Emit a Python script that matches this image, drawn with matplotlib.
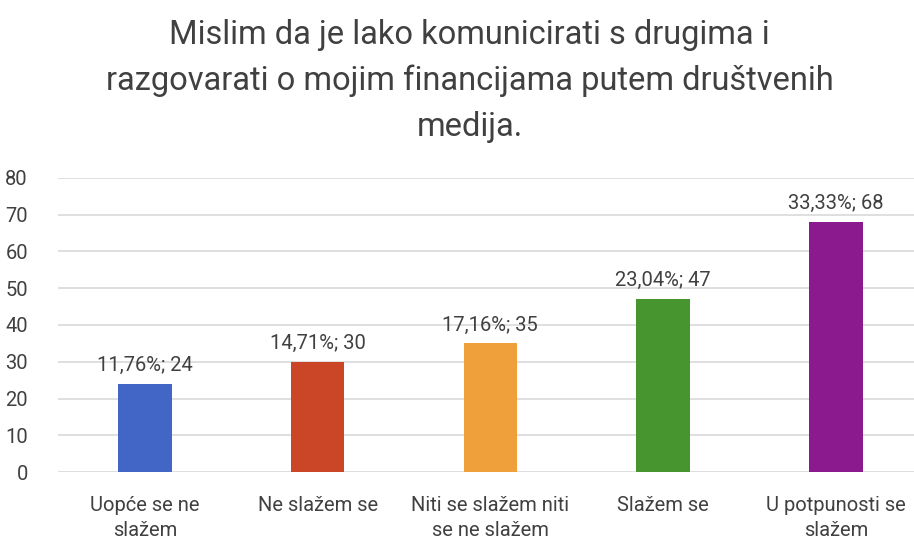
import matplotlib.pyplot as plt

plt.rcParams['font.family'] = ['Roboto', 'DejaVu Sans']

categories = ['Uopće se ne\nslažem', 'Ne slažem se', 'Niti se slažem niti\nse ne slažem',
              'Slažem se', 'U potpunosti se\nslažem']
counts = [24, 30, 35, 47, 68]
percents = ['11,76%', '14,71%', '17,16%', '23,04%', '33,33%']
colors = ['#4166C5', '#CB4527', '#F0A03A', '#47952F', '#8B1A8E']

title = ('Mislim da je lako komunicirati s drugima i\n'
         'razgovarati o mojim financijama putem društvenih\n'
         'medija.')

text_color = '#404040'

fig = plt.figure(figsize=(9.14, 5.42), dpi=100)
ax = fig.add_axes([0.064, 0.129, 0.945, 0.543])

x = range(len(categories))
bars = ax.bar(x, counts, width=0.31, color=colors, zorder=3)

for bar, pct, n in zip(bars, percents, counts):
    ax.text(bar.get_x() + bar.get_width() / 2, bar.get_height() + 2.4, f'{pct}; {n}',
            ha='center', va='bottom', fontsize=14.5, color=text_color)

ax.set_xlim(-0.5, 4.5)
ax.set_ylim(0, 80)
ax.set_yticks(range(0, 81, 10))
ax.set_xticks(list(x))
ax.set_xticklabels(categories, fontsize=14.5, color=text_color, linespacing=1.4)
ax.tick_params(axis='y', labelsize=14.5, labelcolor=text_color, length=0, pad=22)
ax.tick_params(axis='x', length=0, pad=17)
ax.grid(axis='y', color='#d9d9d9', linewidth=1.2, zorder=0)
for s in ax.spines.values():
    s.set_visible(False)

fig.text(0.514, 0.965, title, ha='center', va='top', fontsize=23.5, color=text_color,
         linespacing=1.55)

plt.savefig('out.png', dpi=100)
plt.close()
